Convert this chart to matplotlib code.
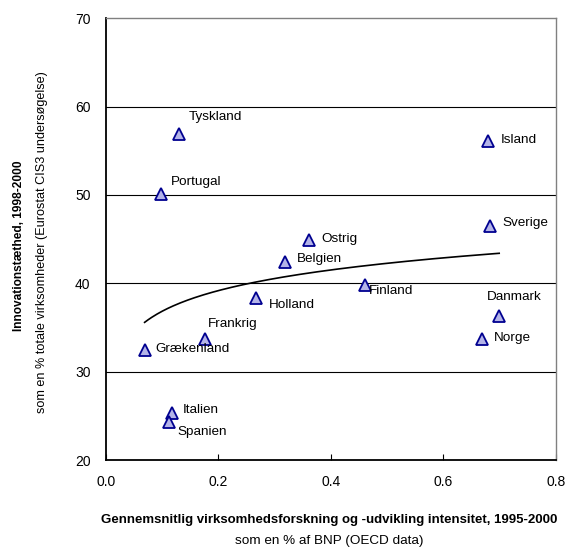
import numpy as np
import matplotlib.pyplot as plt

plt.rcParams['font.family'] = ['Liberation Sans', 'DejaVu Sans']

# data
countries = ["Tyskland", "Portugal", "Island", "Sverige", "Ostrig", "Belgien",
             "Holland", "Finland", "Danmark", "Norge", "Frankrig",
             "Grækenland", "Italien", "Spanien"]
rd_intensity = [0.130, 0.098, 0.679, 0.683, 0.361, 0.318,
                0.267, 0.460, 0.699, 0.668, 0.176,
                0.069, 0.117, 0.112]
innovation = [56.9, 50.1, 56.1, 46.5, 44.9, 42.4,
              38.3, 39.8, 36.3, 33.7, 33.7,
              32.4, 25.3, 24.3]

# label offsets (points) for each country
offsets = {"Tyskland": (7, 12), "Portugal": (7, 9), "Island": (9, 1),
           "Sverige": (9, 2), "Ostrig": (9, 1), "Belgien": (9, 2),
           "Holland": (9, -5), "Finland": (3, -4), "Danmark": (-9, 14),
           "Norge": (9, 1), "Frankrig": (2, 11), "Grækenland": (8, 1),
           "Italien": (8, 2), "Spanien": (6, -7)}

x = np.array(rd_intensity)
y = np.array(innovation)

fig, ax = plt.subplots(figsize=(5.78, 5.51), dpi=100)
fig.subplots_adjust(left=0.183, right=0.962, top=0.967, bottom=0.165)

for yy in [30, 40, 50, 60]:
    ax.axhline(yy, color='black', lw=0.8, zorder=1)

# logarithmic trend line
b, a = np.polyfit(np.log(x), y, 1)
xs = np.linspace(x.min(), x.max(), 200)
ax.plot(xs, a + b * np.log(xs), color='black', lw=1.2, zorder=2)

ax.plot(x, y, linestyle='none', marker='^', ms=8, mfc='#b4b4e8',
        mec='#000090', mew=1.3, zorder=3)

for name, xx, yy in zip(countries, x, y):
    ax.annotate(name, (xx, yy), xytext=offsets[name], textcoords='offset points',
                fontsize=9.7, va='center', ha='left')

ax.set_xlim(0, 0.8)
ax.set_ylim(20, 70)
ax.set_xticks([0, 0.2, 0.4, 0.6, 0.8])
ax.set_xticklabels(["0.0", "0.2", "0.4", "0.6", "0.8"])
ax.set_yticks([20, 30, 40, 50, 60, 70])
ax.tick_params(axis='x', direction='in', length=4, pad=11, labelsize=10)
ax.tick_params(axis='y', length=0, pad=11, labelsize=10)

for s in ['left', 'bottom']:
    ax.spines[s].set_color('black')
    ax.spines[s].set_linewidth(1.3)
for s in ['top', 'right']:
    ax.spines[s].set_color('#808080')
    ax.spines[s].set_linewidth(1)

fig.text(0.57, 0.056, "Gennemsnitlig virksomhedsforskning og -udvikling intensitet, 1995-2000",
         ha='center', va='center', fontsize=9.5, fontweight='bold')
fig.text(0.57, 0.018, "som en % af BNP (OECD data)", ha='center', va='center',
         fontsize=9.7)
fig.text(0.033, 0.555, "Innovationstæthed, 1998-2000", rotation=90, va='center',
         ha='center', fontsize=8.6, fontweight='bold')
fig.text(0.072, 0.56, "som en % totale virksomheder (Eurostat CIS3 undersøgelse)",
         rotation=90, va='center', ha='center', fontsize=9.1)

plt.savefig('out.png', dpi=100)
